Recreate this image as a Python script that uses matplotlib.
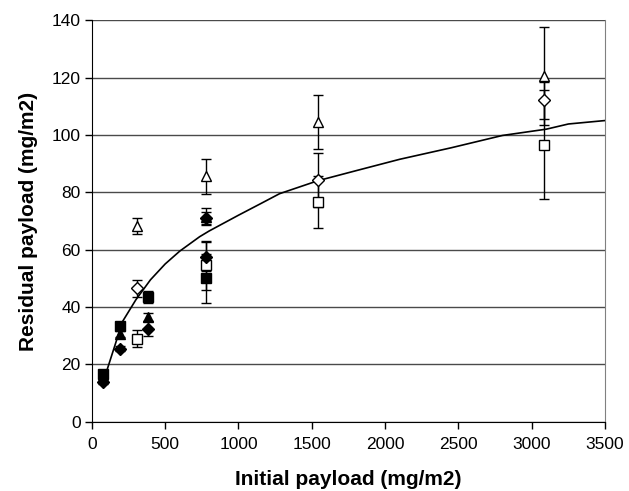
import matplotlib.pyplot as plt

plt.rcParams["font.family"] = ["Liberation Sans", "DejaVu Sans"]

# filled markers (low payload runs)
fsq_x = [75, 190, 385, 780]
fsq_y = [16.5, 33.5, 43.5, 50.0]
fsq_e = [1.0, 1.0, 2.0, 8.5]

ftri_x = [75, 190, 385, 780]
ftri_y = [15.5, 30.5, 36.5, 71.5]
ftri_e = [1.0, 1.0, 1.5, 3.0]

fdia_x = [75, 190, 385, 780]
fdia_y = [14.0, 25.5, 32.5, 57.5]
fdia_e = [1.0, 1.0, 2.5, 5.0]

fdia2_x = [780]
fdia2_y = [71.0]
fdia2_e = [2.0]

# open markers (high payload runs)
otri_x = [310, 780, 1545, 3085]
otri_y = [68.3, 85.5, 104.5, 120.5]
otri_e = [2.9, 6.0, 9.5, 17.0]

odia_x = [310, 1545, 3085]
odia_y = [46.5, 84.3, 112.0]
odia_e = [3.0, 9.5, 6.5]

osq_x = [310, 780, 1545, 3085]
osq_y = [29.0, 54.5, 76.5, 96.5]
osq_e = [3.0, 8.5, 9.0, 19.0]

# fitted curve
fit_x = [75, 210, 300, 400, 500, 600, 735, 800, 1000, 1150, 1280, 1540, 1800,
         2100, 2450, 2800, 3100, 3250, 3500]
fit_y = [13.5, 35.0, 42.5, 49.5, 55.0, 59.5, 64.5, 66.5, 72.0, 76.0, 79.5, 84.0,
         87.5, 91.5, 95.5, 99.8, 102.0, 103.8, 105.0]

fig = plt.figure(figsize=(6.29, 4.91), dpi=100)
ax = fig.add_axes([0.146, 0.141, 0.816, 0.818])

ax.set_axisbelow(True)
ax.yaxis.grid(True, color="#4a4a4a", linewidth=1.0)
ax.xaxis.grid(False)

ax.plot(fit_x, fit_y, color="black", linewidth=1.2, zorder=3)

eb = dict(ecolor="black", elinewidth=1.0, capsize=3.5, capthick=1.0, linestyle="none", zorder=4)
ms = 6.5
ax.errorbar(osq_x, osq_y, yerr=osq_e, marker="s", mfc="white", mec="black", ms=ms, **eb)
ax.errorbar(odia_x, odia_y, yerr=odia_e, marker="D", mfc="white", mec="black", ms=ms - 0.8, **eb)
ax.errorbar(otri_x, otri_y, yerr=otri_e, marker="^", mfc="white", mec="black", ms=ms + 0.5, **eb)
ax.errorbar(fsq_x, fsq_y, yerr=fsq_e, marker="s", mfc="black", mec="black", ms=ms, **eb)
ax.errorbar(ftri_x, ftri_y, yerr=ftri_e, marker="^", mfc="black", mec="black", ms=ms + 0.5, **eb)
ax.errorbar(fdia_x, fdia_y, yerr=fdia_e, marker="D", mfc="black", mec="black", ms=ms - 0.8, **eb)
ax.errorbar(fdia2_x, fdia2_y, yerr=fdia2_e, marker="D", mfc="black", mec="black", ms=ms - 0.8, **eb)

ax.set_xlim(0, 3500)
ax.set_ylim(0, 140)
ax.set_xticks(range(0, 3501, 500))
ax.set_yticks(range(0, 141, 20))

ax.spines["top"].set_visible(False)
ax.spines["right"].set_color("#808080")
ax.spines["left"].set_color("black")
ax.spines["bottom"].set_color("black")
ax.tick_params(axis="both", direction="out", length=5, width=1, labelsize=12.5, color="black")
ax.tick_params(axis="x", pad=6)
ax.tick_params(axis="y", pad=3)

ax.set_xlabel("Initial payload (mg/m2)", fontsize=15, fontweight="bold", labelpad=13)
ax.set_ylabel("Residual payload (mg/m2)", fontsize=15, fontweight="bold", labelpad=10)

fig.savefig("out.png", dpi=100)
